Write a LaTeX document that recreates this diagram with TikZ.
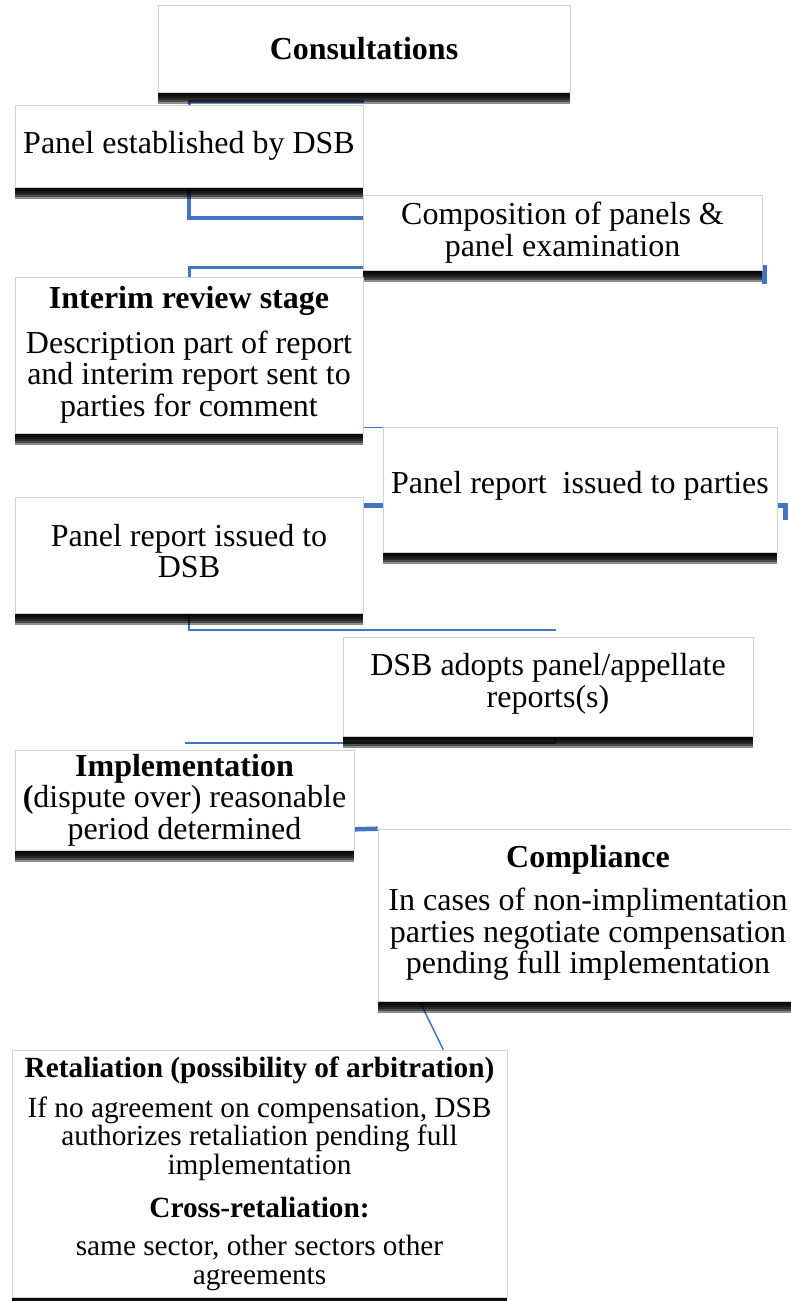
\documentclass[tikz,border=0pt]{standalone}
\usepackage{fontspec}
\setmainfont{Liberation Serif}
\usetikzlibrary{positioning,shadows,backgrounds}

\definecolor{linkblue}{RGB}{68,114,196}

\tikzset{
  stage/.style={draw=black!18, line width=.6pt, fill=white, align=center, inner sep=0pt,
    font=\fontsize{32}{31.5}\selectfont,
    general shadow={fill=black, opacity=.45, shadow yshift=-2pt},
    general shadow={fill=black, opacity=.45, shadow yshift=-4pt},
    general shadow={fill=black, opacity=.45, shadow yshift=-6pt},
    general shadow={fill=black, opacity=.45, shadow yshift=-8pt},
    general shadow={fill=black, opacity=.45, shadow yshift=-10pt},
    general shadow={fill=black, opacity=.45, shadow yshift=-12pt}},
  link/.style={draw=linkblue, line width=#1},
  link/.default=2pt
}

\begin{document}
\begin{tikzpicture}[x=1pt,y=1pt,on grid]
\useasboundingbox (0,0) rectangle (790,-1301);

\node[stage, minimum width=412pt, minimum height=87pt] (cons) at (364,-48.5) {\bfseries Consultations};
\node[stage, minimum width=348pt, minimum height=82pt] (est) [below left=97.5pt and 175pt of cons] {Panel established by DSB};
\node[stage, minimum width=399pt, minimum height=75pt] (comp) [below right=86.5pt and 373.5pt of est] {Composition of panels \&\\ panel examination};
\node[stage, minimum width=348pt, minimum height=156pt] (interim) [below left=122.5pt and 373.5pt of comp]
  {{\bfseries Interim review stage}\\[13pt] Description part of report\\ and interim report sent to\\ parties for comment};
\node[stage, minimum width=394pt, minimum height=125pt] (parties) [below right=134.5pt and 391pt of interim] {Panel report~ issued to parties\\[-18pt]};
\node[stage, minimum width=348pt, minimum height=116pt] (dsbrep) [below left=65.5pt and 391pt of parties] {Panel report issued to\\ DSB\\[-23.5pt]};
\node[stage, minimum width=410pt, minimum height=99pt] (adopt) [below right=131.5pt and 359pt of dsbrep] {DSB adopts panel/appellate\\ reports(s)\\[-19pt]};
\node[stage, minimum width=339pt, minimum height=100pt] (impl) [below left=113.5pt and 363.5pt of adopt]
  {{\bfseries Implementation}\\ {\bfseries (}dispute over) reasonable\\ period determined};
\node[stage, minimum width=420pt, minimum height=172pt] (compl) [below right=115pt and 403.5pt of impl]
  {{\bfseries Compliance}\\[11.5pt] In cases of non-implimentation\\ parties negotiate compensation\\ pending full implementation\\[-21pt]};
\node[stage, minimum width=495pt, minimum height=247pt, font=\fontsize{29.3}{28.8}\selectfont] (ret) [below left=258.5pt and 328.5pt of compl]
  {{\bfseries Retaliation (possibility of arbitration)}\\[11pt]
   If no agreement on compensation, DSB\\ authorizes retaliation pending full\\ implementation\\[14pt]
   {\bfseries Cross-retaliation:}\\[9pt]
   same sector, other sectors other\\ agreements};

% connectors behind the boxes
\begin{scope}[on background layer]
\draw[link=3pt] (est.north) |- ([yshift=-9.5pt]cons.south);
\draw[link=4pt] (est.south) |- ([yshift=15pt]comp.west);
\draw[link=3pt] (interim.north) |- ([yshift=3pt]comp.south east);
\draw[link=5pt] ([xshift=2pt,yshift=5pt]comp.south east) -- ++(0,-19);
\draw[link=1.5pt] ([yshift=6pt]interim.south east) -| (parties.north);
\draw[link=5pt] ([xshift=8pt,yshift=-30pt]parties.east) |- ([yshift=50pt]dsbrep.east);
\draw[link=2.3pt] (dsbrep.south) |- ([xshift=8pt,yshift=7pt]adopt.north);
\draw[link=2.3pt] ([xshift=7pt,yshift=6pt]adopt.south) |- ([yshift=7pt]impl.north);
\draw[link=4.5pt] ([yshift=21pt]impl.south east) -- (compl.north west);
\draw[link=1.5pt] ([xshift=42pt]compl.south west) -- ([xshift=-64pt]ret.north east);
\end{scope}
\end{tikzpicture}
\end{document}
